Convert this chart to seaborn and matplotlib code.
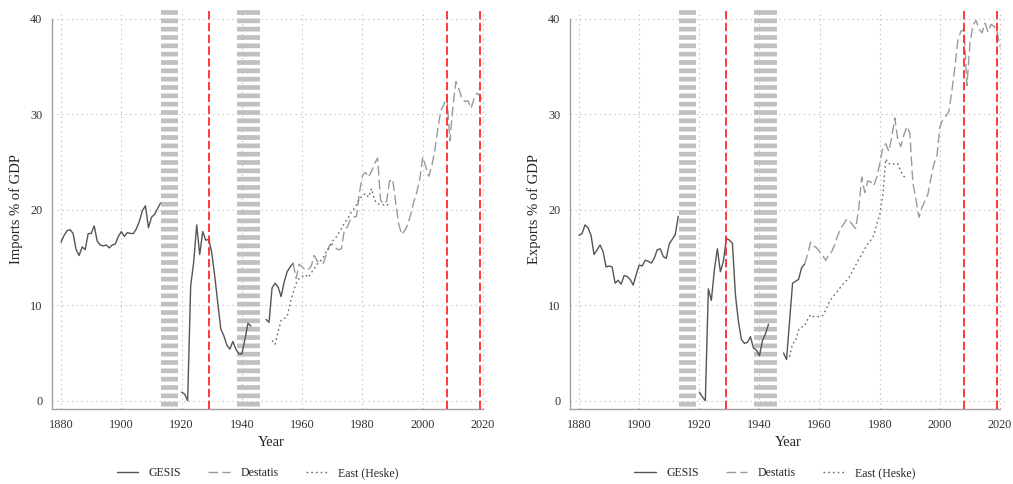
import numpy as np
import pandas as pd
import matplotlib
matplotlib.use("Agg")
import matplotlib.pyplot as plt
import seaborn as sns
from matplotlib.lines import Line2D

# ---------------- data ----------------
gesis_imports_years = list(range(1880, 1914)) + list(range(1920, 1944)) + list(range(1948, 1958))
gesis_imports = [16.6, 17.3, 17.8, 17.9, 17.5, 15.8, 15.2, 16.1, 15.8, 17.5,
                 17.5, 18.3, 16.7, 16.3, 16.2, 16.3, 16.0, 16.3, 16.4, 17.2,
                 17.7, 17.2, 17.6, 17.5, 17.5, 18.0, 18.8, 19.9, 20.4, 18.1,
                 19.2, 19.5, 20.1, 20.7,
                 0.9, 0.7, 0.0, 12.0, 14.5, 18.4, 15.3, 17.7, 16.8, 16.9,
                 15.5, 13.0, 10.2, 7.5, 6.8, 5.8, 5.4, 6.2, 5.4, 4.9,
                 4.9, 6.4, 8.1, 7.8,
                 8.5, 8.2, 11.8, 12.3, 11.9, 10.9, 12.4, 13.5, 14.0, 14.4]

destatis_imports_years = list(range(1957, 2021))
destatis_imports = [14.4, 12.8, 14.3, 14.0, 13.7, 13.7, 14.1, 15.2, 14.6,
                    14.5, 14.4, 15.3, 16.2, 16.4, 16.0, 15.8, 15.9, 17.9, 18.2,
                    19.0, 19.2, 19.3, 21.8, 23.6, 23.9, 23.4, 24.0, 24.8, 25.4,
                    21.0, 20.6, 20.9, 23.0, 23.2, 20.8, 18.5, 17.4, 17.8, 18.4,
                    19.5, 20.8, 21.8, 23.2, 25.5, 24.5, 23.5, 24.6, 26.2, 28.5,
                    30.4, 31.0, 31.8, 27.2, 30.8, 33.4, 32.6, 31.6, 31.3, 31.4,
                    30.6, 31.6, 32.2, 31.9, 31.1]

east_imports_years = list(range(1950, 1990))
east_imports = [6.3, 5.9, 7.2, 8.4, 8.6, 8.8, 10.2, 11.3, 12.3, 12.8,
                13.0, 13.2, 12.9, 13.4, 13.8, 14.3, 14.6, 15.0, 15.6, 16.1,
                16.7, 17.0, 17.5, 18.0, 18.6, 19.0, 19.6, 20.0, 20.5, 21.2,
                21.4, 21.7, 21.3, 22.2, 21.0, 20.6, 20.6, 20.5, 20.6, 20.3]

gesis_exports_years = list(range(1880, 1914)) + list(range(1920, 1944)) + list(range(1948, 1956))
gesis_exports = [17.3, 17.5, 18.4, 18.1, 17.3, 15.3, 15.8, 16.3, 15.6, 14.0,
                 14.1, 14.0, 12.3, 12.6, 12.2, 13.1, 13.0, 12.7, 12.1, 13.2,
                 14.2, 14.1, 14.7, 14.6, 14.4, 14.9, 15.8, 15.9, 15.1, 14.9,
                 16.4, 16.9, 17.4, 19.3,
                 0.9, 0.4, 0.0, 11.7, 10.5, 13.7, 15.9, 13.5, 14.6, 17.0,
                 16.8, 16.5, 11.1, 8.3, 6.4, 6.0, 6.1, 6.7, 5.5, 5.3,
                 4.7, 6.3, 7.0, 8.0,
                 5.0, 4.3, 8.3, 12.3, 12.5, 12.7, 13.9, 14.3]

destatis_exports_years = list(range(1955, 2021))
destatis_exports = [14.3, 15.3, 16.6, 16.2, 16.0, 15.6, 15.2, 14.7, 15.2, 15.6,
                    16.3, 17.3, 18.0, 18.5, 19.0, 18.8, 18.4, 18.0, 20.1, 23.4,
                    21.8, 23.0, 22.9, 22.5, 23.4, 24.8, 26.5, 26.9, 26.1, 27.6,
                    29.6, 27.3, 26.6, 27.8, 28.7, 28.0, 22.8, 21.1, 19.2, 20.2,
                    20.9, 21.6, 23.3, 24.8, 25.6, 28.7, 29.5, 29.8, 30.3, 32.5,
                    35.0, 37.8, 38.7, 38.8, 33.0, 37.5, 39.3, 39.8, 38.9, 38.5,
                    39.5, 38.6, 39.4, 39.2, 38.6, 37.0]

east_exports_years = list(range(1950, 1990))
east_exports = [4.6, 6.0, 6.2, 7.4, 7.7, 7.8, 8.5, 9.0, 8.8, 8.8,
                8.8, 8.9, 9.5, 10.2, 10.7, 11.1, 11.5, 11.9, 12.3, 12.6,
                13.0, 13.6, 14.2, 14.8, 15.3, 15.9, 16.4, 16.8, 17.3, 18.5,
                19.5, 21.5, 25.3, 24.8, 24.9, 24.7, 24.8, 24.0, 23.5, 23.2]

war_periods = [(1914, 1918), (1939, 1945)]
crisis_years = [1929, 2008, 2019]
series_names = ["GESIS", "Destatis", "East (Heske)"]
x_ticks = [1880, 1900, 1920, 1940, 1960, 1980, 2000, 2020]
y_ticks = [0, 10, 20, 30, 40]

# ---------------- style ----------------
sns.set_style("white")
plt.rcParams["font.family"] = ["Liberation Serif", "DejaVu Serif"]
plt.rcParams["lines.scale_dashes"] = False
plt.rcParams["hatch.linewidth"] = 3.4
plt.rcParams["hatch.color"] = "#c0c0c0"

styles = {
    "GESIS": dict(color="#555555", linewidth=1.0, linestyle="-"),
    "Destatis": dict(color="#9a9a9a", linewidth=1.0, linestyle=(0, (7, 3))),
    "East (Heske)": dict(color="#6a6a6a", linewidth=1.0, linestyle=(0, (1.2, 2.2))),
}


def make_df(years, values):
    df = pd.DataFrame({"year": years, "value": values})
    df["segment"] = (df["year"].diff() > 1).cumsum()
    return df


fig = plt.figure(figsize=(10.13, 4.84), dpi=100)
ax_l = fig.add_axes([52 / 1013, 1 - 409 / 484, 438 / 1013, 399 / 484])
ax_r = fig.add_axes([570 / 1013, 1 - 409 / 484, 437 / 1013, 399 / 484])

panels = [
    (ax_l, "Imports % of GDP",
     [(gesis_imports_years, gesis_imports), (destatis_imports_years, destatis_imports),
      (east_imports_years, east_imports)]),
    (ax_r, "Exports % of GDP",
     [(gesis_exports_years, gesis_exports), (destatis_exports_years, destatis_exports),
      (east_exports_years, east_exports)]),
]

xlim = (1877.0, 2022.3)
ylim = (-0.87, 40.9)

for ax, ylabel, series in panels:
    ax.set_xlim(*xlim)
    ax.set_ylim(*ylim)
    ax.set_axisbelow(True)
    ax.grid(True, color="#c4c4c4", linestyle=(0, (1, 2.5)), linewidth=0.8)

    for s, e in war_periods:
        ax.axvspan(s - 0.7, e + 0.9, facecolor="none", edgecolor="#c0c0c0",
                   hatch="--", linewidth=0, zorder=1)

    for name, (yrs, vals) in zip(series_names, series):
        df = make_df(yrs, vals)
        sns.lineplot(data=df, x="year", y="value", units="segment", estimator=None,
                     ax=ax, zorder=2, **styles[name])

    for cy in crisis_years:
        ax.axvline(cy, color="#ff2a2a", linewidth=1.3, linestyle=(0, (6, 2.5)), zorder=3)

    ax.set_xticks(x_ticks)
    ax.set_yticks(y_ticks)
    ax.tick_params(axis="both", direction="out", length=4, width=0.8, color="#a0a0a0",
                   labelcolor="#333333", labelsize=8.8)
    ax.tick_params(axis="x", pad=3)
    ax.tick_params(axis="y", pad=3)

    for sp in ["top", "right"]:
        ax.spines[sp].set_visible(False)
    ax.spines["left"].set_bounds(ylim[0], 40)
    ax.spines["bottom"].set_bounds(xlim[0], 2020)
    for sp in ["left", "bottom"]:
        ax.spines[sp].set_color("#a0a0a0")
        ax.spines[sp].set_linewidth(1.0)

    ax.set_xlabel("Year", fontsize=10.5, color="#222222", labelpad=4)
    ax.set_ylabel(ylabel, fontsize=10.5, color="#222222", labelpad=5)

    handles = [Line2D([], [], **styles[n]) for n in series_names]
    ax.legend(handles, series_names, loc="center", bbox_to_anchor=(0.469, -0.16),
              ncol=3, frameon=False, fontsize=8.5, handlelength=1.8,
              handletextpad=0.9, columnspacing=2.3)

fig.savefig("out.png", dpi=100, facecolor="white")
